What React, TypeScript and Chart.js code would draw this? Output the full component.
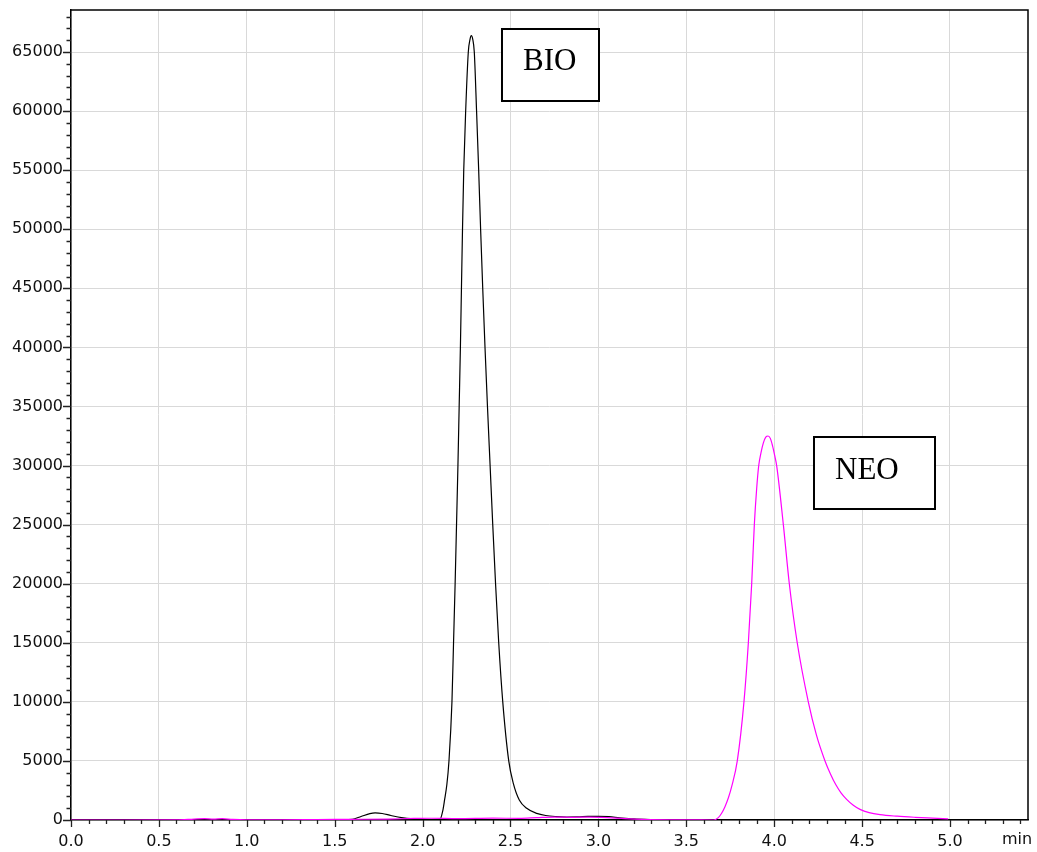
import React, { useEffect, useRef } from "react";
import { Chart, registerables } from "chart.js";

Chart.register(...registerables);

// ---- Data (time in min, signal in counts) ----
const bioTime = [
  0.0, 0.2, 0.4, 0.6, 0.8, 1.0, 1.2, 1.4, 1.5, 1.55, 1.6, 1.65, 1.7, 1.73, 1.77, 1.82, 1.88, 1.95, 2.02,
  2.08, 2.099, 2.115, 2.125, 2.138, 2.15, 2.167, 2.176, 2.185, 2.193, 2.201, 2.208, 2.215, 2.221, 2.227,
  2.234, 2.245, 2.26, 2.27, 2.277, 2.285, 2.294, 2.307, 2.319, 2.33, 2.342, 2.355, 2.369, 2.384, 2.399,
  2.415, 2.433, 2.456, 2.49, 2.516, 2.55, 2.592, 2.649, 2.7, 2.76, 2.82, 2.88, 2.94, 3.0, 3.06, 3.12, 3.2,
  3.3, 3.5, 3.7, 4.0, 4.5, 5.0,
];
const bioSignal = [
  0, 20, 20, 10, 30, 10, 20, 30, 40, 30, 60, 300, 540, 600, 550, 380, 200, 90, 40,
  30, 50, 800, 1700, 3000, 5000, 10000, 15000, 20000, 25000, 30000, 35000, 40000, 45000, 50000,
  55000, 60000, 65000, 66100, 66380, 66100, 65000, 60000, 55000, 50000, 45000, 40000, 35000, 30000, 25000,
  20000, 15000, 10000, 5000, 3100, 1690, 990, 560, 380, 290, 250, 260, 300, 310, 280, 190, 90,
  40, 10, 0, 10, 0, 0,
];

const neoTime = [
  0.0, 0.3, 0.6, 0.7, 0.76, 0.81, 0.86, 0.92, 1.0, 1.2, 1.4, 1.6, 1.8, 1.95, 2.05, 2.2, 2.4, 2.55, 2.65,
  2.75, 2.85, 2.95, 3.05, 3.15, 3.25, 3.4, 3.55, 3.654, 3.682, 3.7, 3.72, 3.74, 3.758, 3.79, 3.828, 3.853,
  3.872, 3.887, 3.9, 3.912, 3.925, 3.938, 3.952, 3.965, 3.978, 3.99, 4.002, 4.014, 4.052, 4.086, 4.131,
  4.194, 4.24, 4.289, 4.32, 4.35, 4.38, 4.412, 4.45, 4.488, 4.54, 4.602, 4.7, 4.8, 4.9, 4.99,
];
const neoSignal = [
  0, 0, 10, 80, 120, 70, 110, 50, 20, 20, 40, 60, 80, 130, 150, 120, 160, 140, 200,
  250, 230, 240, 200, 120, 60, 20, 10, 0, 200, 550, 1130, 1900, 2820, 5000, 10000, 15000,
  20000, 25000, 28000, 30000, 31100, 31900, 32400, 32500, 32300, 31700, 30900, 30000, 25000, 20000, 15000,
  10000, 7200, 5000, 3900, 3000, 2300, 1750, 1250, 900, 620, 450, 320, 230, 160, 100,
];

const yTickValues = [0, 5000, 10000, 15000, 20000, 25000, 30000, 35000, 40000, 45000, 50000, 55000, 60000, 65000];
const xTickValues = [0, 0.5, 1.0, 1.5, 2.0, 2.5, 3.0, 3.5, 4.0, 4.5, 5.0];
const xUnitLabel = "min";
const peakLabels = ["BIO", "NEO"];

// label boxes, in data units (time, signal)
const peakBoxes = [
  { x0: 2.4516, x1: 3.0034, y0: 60855, y1: 66949 },
  { x0: 4.2264, x1: 4.9147, y0: 26322, y1: 32416 },
];

const Y_MAX = 68557;
const X_MAX = 5.4437;
const TICK_FONT = '"DejaVu Sans", Arial, sans-serif';

const overlayPlugin = {
  id: "overlay",
  afterDatasetsDraw(chart: any) {
    const { ctx, chartArea: a, scales } = chart;
    const x = scales.x;
    const y = scales.y;
    ctx.save();

    // frame (top and right)
    ctx.strokeStyle = "#000";
    ctx.lineWidth = 1.5;
    ctx.beginPath();
    ctx.moveTo(a.left, a.top);
    ctx.lineTo(a.right, a.top);
    ctx.lineTo(a.right, a.bottom);
    ctx.stroke();

    // y ticks: every 1000, major every 5000
    ctx.strokeStyle = "#222";
    ctx.lineWidth = 1.3;
    ctx.beginPath();
    for (let v = 0; v <= Y_MAX; v += 1000) {
      const py = Math.round(y.getPixelForValue(v)) + 0.5;
      const len = v % 5000 === 0 ? 8 : 4.5;
      ctx.moveTo(a.left - len, py);
      ctx.lineTo(a.left, py);
    }
    // x ticks: every 0.1, major every 0.5
    for (let i = 0; i * 0.1 <= X_MAX; i++) {
      const px = Math.round(x.getPixelForValue(i * 0.1)) + 0.5;
      const len = i % 5 === 0 ? 7 : 4;
      ctx.moveTo(px, a.bottom);
      ctx.lineTo(px, a.bottom + len);
    }
    ctx.stroke();

    // peak label boxes
    peakBoxes.forEach((b, i) => {
      const l = x.getPixelForValue(b.x0);
      const r = x.getPixelForValue(b.x1);
      const t = y.getPixelForValue(b.y1);
      const btm = y.getPixelForValue(b.y0);
      ctx.fillStyle = "#fff";
      ctx.fillRect(l, t, r - l, btm - t);
      ctx.lineWidth = 2;
      ctx.strokeStyle = "#000";
      ctx.strokeRect(l, t, r - l, btm - t);
      ctx.fillStyle = "#000";
      ctx.font = '31px "Liberation Serif", "Times New Roman", serif';
      ctx.textAlign = "left";
      ctx.textBaseline = "alphabetic";
      ctx.fillText(peakLabels[i], l + 21, t + 41.5);
    });

    // unit label
    ctx.fillStyle = "#111";
    ctx.font = "16px " + TICK_FONT;
    ctx.textAlign = "center";
    ctx.textBaseline = "top";
    ctx.fillText(xUnitLabel, a.right - 11, a.bottom + 12);

    ctx.restore();
  },
};

export default function App() {
  const canvasRef = useRef<HTMLCanvasElement | null>(null);

  useEffect(() => {
    if (!canvasRef.current) return;
    const neoPts = neoTime.map((t, i) => ({ x: t, y: neoSignal[i] }));
    const bioPts = bioTime.map((t, i) => ({ x: t, y: bioSignal[i] }));

    const chart = new Chart(canvasRef.current, {
      type: "line",
      data: {
        datasets: [
          {
            label: "NEO",
            data: neoPts,
            borderColor: "#ff00ff",
            borderWidth: 1.2,
            pointRadius: 0,
            cubicInterpolationMode: "monotone",
            fill: false,
          },
          {
            label: "BIO",
            data: bioPts,
            borderColor: "#000000",
            borderWidth: 1.2,
            pointRadius: 0,
            cubicInterpolationMode: "monotone",
            fill: false,
          },
        ],
      },
      options: {
        animation: false,
        responsive: true,
        maintainAspectRatio: false,
        layout: { padding: { left: 0, top: 10, right: 9, bottom: 0 } },
        plugins: {
          legend: { display: false },
          title: { display: false },
          tooltip: { enabled: false },
        },
        scales: {
          x: {
            type: "linear",
            min: 0,
            max: X_MAX,
            afterBuildTicks: (scale: any) => {
              scale.ticks = xTickValues.map((v) => ({ value: v }));
            },
            afterFit: (scale: any) => {
              scale.height = 32;
              scale.paddingLeft = 0;
              scale.paddingRight = 0;
            },
            ticks: {
              maxRotation: 0,
              autoSkip: false,
              padding: 12,
              color: "#111",
              font: { family: TICK_FONT, size: 16 },
              callback: (v: any) => Number(v).toFixed(1),
            },
            grid: { color: "#d9d9d9", lineWidth: 1, drawTicks: false },
            border: { display: true, color: "#000", width: 1.5 },
          },
          y: {
            type: "linear",
            min: 0,
            max: Y_MAX,
            afterBuildTicks: (scale: any) => {
              scale.ticks = yTickValues.map((v) => ({ value: v }));
            },
            afterFit: (scale: any) => {
              scale.width = 71;
              scale.paddingTop = 0;
              scale.paddingBottom = 0;
            },
            ticks: {
              autoSkip: false,
              padding: 8,
              color: "#111",
              font: { family: TICK_FONT, size: 16 },
              callback: (v: any) => String(v),
            },
            grid: { color: "#d9d9d9", lineWidth: 1, drawTicks: false },
            border: { display: true, color: "#000", width: 1.5 },
          },
        },
      },
      plugins: [overlayPlugin],
    });
    return () => chart.destroy();
  }, []);

  return (
    <div style={{ position: "absolute", left: 0, top: 0, width: 1037, height: 852, background: "#fff" }}>
      <canvas ref={canvasRef} />
    </div>
  );
}
